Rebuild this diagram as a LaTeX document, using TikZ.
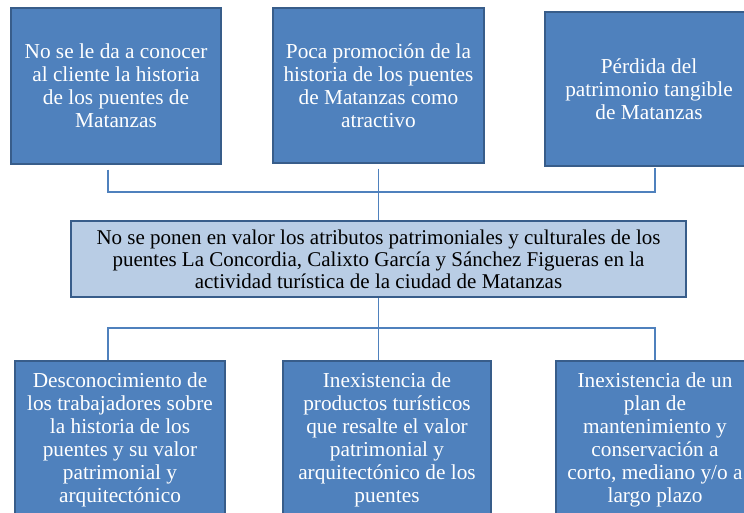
\documentclass[tikz,border=0pt]{standalone}
\usepackage{fontspec}
\setmainfont{Liberation Serif}
\usepackage{tikz}
\definecolor{causeblue}{HTML}{4F81BD}
\definecolor{edgeblue}{HTML}{385D8A}
\definecolor{coreblue}{HTML}{B9CDE5}
\tikzset{
  causebox/.style={draw=edgeblue, line width=1.5pt, fill=causeblue, text=white,
    align=center, inner sep=0pt, font=\fontsize{21.3}{23}\selectfont},
  corebox/.style={draw=edgeblue, line width=1.5pt, fill=coreblue, text=black,
    align=center, inner sep=0pt, font=\fontsize{21}{22}\selectfont},
  link/.style={draw=causeblue, line width=1.3pt}
}
\begin{document}
\begin{tikzpicture}[x=1pt, y=-1pt]
		%%%%% START %%%%%
		\clip (0, 0) rectangle (744, 513);
		\fill[white] (0, 0) rectangle (744, 513);
		
		% causas (arriba)
		\node[causebox, minimum width=210, minimum height=156] (causa1) at (116, 86)
			{No se le da a conocer\\al cliente la historia\\de los puentes de\\Matanzas};
		\node[causebox, minimum width=211, minimum height=155] (causa2) at (378.5, 85.5)
			{Poca promoción de la\\historia de los puentes\\de Matanzas como\\atractivo};
		\node[causebox, minimum width=208, minimum height=154] (causa3) at (649, 89)
			{Pérdida del\\patrimonio tangible\\de Matanzas};
		
		% problema central
		\node[corebox, minimum width=615, minimum height=76] (problema) at (378.5, 259)
			{No se ponen en valor los atributos patrimoniales y culturales de los\\puentes La Concordia, Calixto García y Sánchez Figueras en la\\actividad turística de la ciudad de Matanzas};
		
		% efectos (abajo)
		\node[causebox, minimum width=210, minimum height=158] (efecto1) at (120, 440)
			{Desconocimiento de\\los trabajadores sobre\\la historia de los\\puentes y su valor\\patrimonial y\\arquitectónico};
		\node[causebox, minimum width=208, minimum height=158] (efecto2) at (387, 440)
			{Inexistencia de\\productos turísticos\\que resalte el valor\\patrimonial y\\arquitectónico de los\\puentes};
		\node[causebox, minimum width=198, minimum height=158] (efecto3) at (655, 440)
			{Inexistencia de un\\plan de\\mantenimiento y\\conservación a\\corto, mediano y/o a\\largo plazo};
		
		% conectores
		\coordinate (arribaI) at (108, 192);
		\coordinate (arribaD) at (655, 192);
		\coordinate (abajoI) at (108, 328);
		\coordinate (abajoD) at (655, 328);
		
		\draw[link] ([yshift=-5]causa1.south -| arribaI) -- (arribaI) -- (arribaD) -- ([yshift=-1]causa3.south -| arribaD);
		\draw[link] ([yshift=-5]causa2.south) -- (problema.north -| causa2.south);
		\draw[link] (problema.south -| causa2.south) -- (efecto2.north -| causa2.south);
		\draw[link] (efecto1.north -| abajoI) -- (abajoI) -- (abajoD) -- (efecto3.north -| abajoD);
		
		%%%%% END %%%%%
\end{tikzpicture}
\end{document}
